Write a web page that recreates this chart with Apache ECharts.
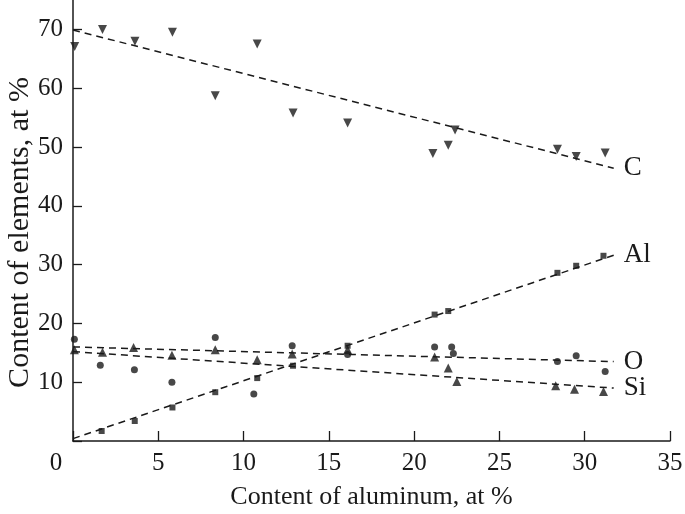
<!DOCTYPE html>
<html><head><meta charset="utf-8">
<script src="https://cdn.jsdelivr.net/npm/echarts@6/dist/echarts.min.js"></script>
<style>html,body{margin:0;padding:0;background:#fff}#c{width:685px;height:514px}</style>
</head><body><div id="c"></div>
<script>
// Data
const cPts  = [[0.1,67.1],[1.73,70.0],[3.63,68.0],[5.83,69.5],[8.34,58.7],[10.8,67.5],[12.9,55.8],[16.1,54.1],[21.1,48.9],[22.0,50.3],[22.4,52.9],[28.4,49.6],[29.5,48.4],[31.2,49.0]];
const alPts = [[1.68,1.7],[3.62,3.4],[5.83,5.7],[8.34,8.3],[10.8,10.7],[12.9,12.8],[16.1,16.2],[21.2,21.5],[22.0,22.1],[28.4,28.6],[29.5,29.8],[31.1,31.5]];
const oPts  = [[0.08,17.3],[1.6,12.9],[3.6,12.1],[5.8,10.0],[8.34,17.6],[10.6,8.0],[12.85,16.2],[16.1,14.7],[21.2,16.0],[22.2,16.0],[22.3,14.9],[28.4,13.5],[29.5,14.5],[31.2,11.8]];
const siPts = [[0.08,15.5],[1.73,15.1],[3.55,15.9],[5.8,14.6],[8.34,15.5],[10.8,13.8],[12.85,14.8],[16.1,15.5],[21.2,14.3],[22.0,12.4],[22.5,10.1],[28.3,9.4],[29.4,8.8],[31.1,8.4]];
// Trend lines (endpoints)
const cTrend  = [[0,69.9],[31.7,46.4]];
const alTrend = [[0,0.4],[31.7,31.6]];
const oTrend  = [[0,16.0],[31.7,13.5]];
const siTrend = [[0,15.2],[31.7,9.0]];
const seriesNames = ['C','Al','O','Si'];
const xTicks = [0,5,10,15,20,25,30,35];
const yTicks = [10,20,30,40,50,60,70];
const yTickMarks = [0,10,20,30,40,50,60,70];

const FONT = 'Liberation Serif';
const INK = '#1a1a1a';

function trend(name, data) {
  return {
    type: 'line', data: data, symbol: 'none', silent: true, z: 1,
    lineStyle: {color: INK, width: 1.5, type: [7,5]},
    endLabel: {show: true, formatter: name, color: INK, fontFamily: FONT, fontSize: 27, distance: 10}
  };
}
function pts(data, symbol, size, rotate) {
  return {
    type: 'scatter', data: data, symbol: symbol, symbolSize: size, symbolRotate: rotate || 0, z: 3,
    itemStyle: {color: INK}
  };
}

const chart = echarts.init(document.getElementById('c'), null, {renderer: 'canvas'});
chart.setOption({
  animation: false,
  backgroundColor: '#fff',
  grid: {left: 73, right: 15, top: 0, bottom: 73, containLabel: false, outerBoundsMode: 'none'},
  xAxis: {
    type: 'value', min: 0, max: 35, interval: 5,
    name: 'Content of aluminum, at %', nameLocation: 'middle', nameGap: 43, nameMoveOverlap: false,
    nameTextStyle: {fontFamily: FONT, fontSize: 26, color: INK},
    axisLine: {show: true, lineStyle: {color: INK, width: 1.5}},
    axisTick: {show: true, inside: true, length: 10, lineStyle: {color: INK, width: 1.3}, customValues: xTicks},
    axisLabel: {
      customValues: xTicks, margin: 10, color: INK, fontFamily: FONT, fontSize: 25,
      formatter: v => v === 0 ? '{z|0}' : String(v),
      rich: {z: {fontFamily: FONT, fontSize: 25, color: INK, padding: [0, 34, 0, 0]}}
    },
    splitLine: {show: false}
  },
  yAxis: {
    type: 'value', min: 0, max: 75, interval: 10,
    name: 'Content of elements, at %', nameLocation: 'middle', nameGap: 38, nameMoveOverlap: false,
    nameTextStyle: {fontFamily: FONT, fontSize: 30, color: INK, padding: [0, 24, 0, 0]},
    axisLine: {show: true, lineStyle: {color: INK, width: 1.5}},
    axisTick: {show: true, inside: true, length: 9, lineStyle: {color: INK, width: 1.3}, customValues: yTickMarks},
    axisLabel: {customValues: yTicks, margin: 10, color: INK, fontFamily: FONT, fontSize: 25},
    splitLine: {show: false}
  },
  series: [
    trend(seriesNames[0], cTrend),
    trend(seriesNames[1], alTrend),
    trend(seriesNames[2], oTrend),
    trend(seriesNames[3], siTrend),
    pts(cPts, 'triangle', 9, 180),
    pts(alPts, 'rect', 6),
    pts(oPts, 'circle', 7),
    pts(siPts, 'triangle', 9)
  ]
});
</script></body></html>
